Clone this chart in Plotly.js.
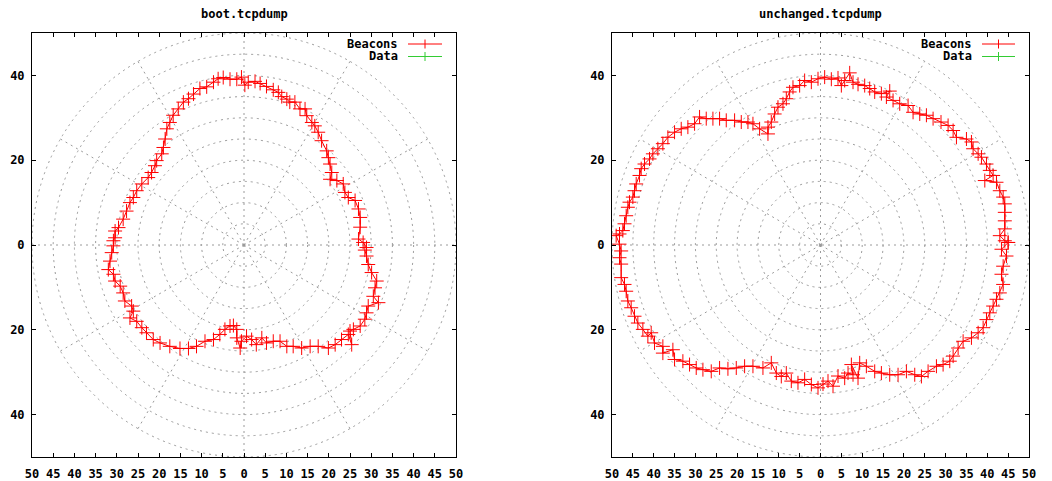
<!DOCTYPE html>
<html><head><meta charset="utf-8">
<script src="https://cdn.plot.ly/plotly-3.0.1.min.js"></script>
<style>html,body{margin:0;padding:0;background:#fff}#chart{width:1052px;height:481px}</style>
</head><body><div id="chart"></div>
<script>
const panelTitles = ['boot.tcpdump', 'unchanged.tcpdump'];
const seriesNames = ['Beacons', 'Data'];

const bootX = [28.9,28.1,27,27.4,27.4,27,26.2,24.6,23.8,23.4,21.9,20.3,20.7,20.3,19.9,19.5,18.3,17.5,16.7,16,14.8,14.4,13.2,12,10.8,10.1,8.9,8.1,6.9,5.3,3.8,2.6,1,0.2,-0.6,-1.7,-3.3,-4.9,-6.1,-7.2,-8.8,-10.4,-11.9,-13.1,-14.3,-15.5,-16.7,-17.5,-18.2,-18.6,-19,-19.4,-20.6,-21,-21.8,-22.6,-24.1,-25.3,-26.1,-26.9,-27.7,-28.5,-29.6,-30.4,-30.4,-30.8,-30.8,-31.2,-31.6,-32,-30.8,-30.4,-29.2,-28.5,-28.1,-26.5,-26.1,-26.9,-25.3,-24.1,-23,-21.4,-19.8,-17.5,-15.1,-13.1,-11.2,-9.2,-7.2,-5.7,-4.5,-3.3,-2.5,-1.7,-1.7,-0.9,-0.6,0.6,1.8,2.9,4.2,5.3,6.9,8.5,10.1,11.6,13.6,15.6,17.5,19.9,21.5,23,24.6,25.4,25,25.8,27.4,28.5,28.9,29.3,31.7,30.5,30.9,31.3,30.1,29.3,28.9,28.5];
const bootY = [-0.6,0.6,1.4,4.2,6.5,8.5,10.5,11.2,12.4,14.4,15.2,15.5,17.1,19.1,20.6,22.2,24.6,26.6,28.1,28.9,30.5,32.1,32.1,33.7,33.7,34.4,35,36,36.6,37.4,38.1,38.6,38.4,37.7,39.6,39.1,39.1,39.5,39.2,38.4,37.3,36.9,35.6,34.5,33.7,32.1,30.6,28.9,27.4,25,23,21.5,19.9,18.7,17.1,15.9,14.4,12.8,11.2,10,8,6.1,4.1,3.3,1.7,1,-0.2,-1.8,-3.8,-5.8,-6.9,-8.5,-9.7,-11.3,-13.2,-14.4,-15.6,-17.2,-18,-19.5,-20.7,-22.3,-23.1,-23.9,-24.4,-24.4,-23.9,-22.7,-22.3,-21.1,-19.9,-19.1,-19,-19.9,-21.9,-24.3,-22.7,-21.5,-22.3,-23.5,-21.9,-23.1,-22.7,-22.7,-23.9,-23.9,-24.3,-23.9,-23.9,-24.3,-23.5,-22.3,-21.1,-23.5,-20.3,-19.9,-19.1,-17.5,-16,-14.4,-13.6,-12.1,-10.1,-8.5,-6.5,-4.6,-2.6,-1.2];

const unchX = [45,44.2,43,44.2,44.2,44.2,44.2,43.8,43,42.2,39.4,41.4,40.6,39.8,38.6,37.8,36.6,36.2,35,32.6,31.8,30.6,28.9,27,25.4,23.8,22.2,21,19,17.4,15.8,16.6,14.6,13,11.8,10.6,9,7.8,7,5.8,5,4.2,2.6,1,-0.6,-2.2,-3.8,-5,-6.6,-7.4,-8.2,-9,-10.2,-11,-11.8,-12.6,-12.6,-14.6,-16.2,-17.4,-19,-20.6,-22.6,-24.2,-25.8,-27.4,-29,-30.2,-31.8,-33.4,-35,-36.6,-37.8,-39,-40.2,-41,-42.2,-43,-43.4,-44.2,-44.6,-45,-45.8,-46.2,-46.6,-47,-47.4,-48.2,-49,-48.2,-47.8,-48.2,-47.8,-47.8,-47,-46.6,-46.2,-45.4,-44.6,-43.8,-42.6,-41.4,-40.6,-39.8,-37.8,-37.8,-35.4,-35,-33,-31.4,-29.8,-28.2,-26.2,-24.2,-22.2,-20.2,-18.2,-16.2,-13.8,-11.8,-10.6,-9.4,-8.2,-7,-5.4,-3.8,-2.2,-0.6,0.6,1.8,3,4.2,5.8,6.6,7.8,7.4,9,9.4,11,13,14.6,16.6,18.6,20.6,22.6,24.2,25.8,27.8,29.4,31,31.8,33,34.2,36.2,37.8,39,39.8,40.6,41.4,42.2,43,43.8,43.4,43.8,44.6,43.4,45];
const unchY = [0.6,1,2.2,3.8,5.7,7.7,9.7,11.3,12.8,14.8,15.2,16.4,17.6,19.1,20.7,21.5,22.7,24.3,25,25.4,27,28.2,29,29.8,30.6,30.9,31.3,32.9,33.3,34.1,34.9,36.3,35.7,36.1,36.9,37.6,37.9,38.4,40.6,38.8,37.6,39.4,39.1,39.6,39.2,38.4,38.8,37.6,37.2,36.1,34.5,33.3,32.5,30.9,29,27.8,26.2,27.4,28.6,29,29,29.4,29.4,29.8,29.8,29.8,30.2,28.6,27.8,27.4,26.6,25.4,23.9,22.7,21.5,20.3,19.1,18,16.4,14.4,12.8,11.3,10.1,8.9,6.9,5,3.4,2.6,2.2,0.2,-1.4,-3,-4.5,-7.7,-9.3,-10.9,-13.2,-14.8,-16.8,-18.4,-19.9,-21.5,-20.7,-23.1,-23.9,-25.5,-24.7,-27,-27.4,-28.2,-29,-29.4,-29.8,-29,-29.2,-29,-28.6,-28.6,-29,-27.8,-30.2,-31,-30.2,-32.1,-32.5,-31.7,-32.9,-33.7,-32.8,-32.1,-33.3,-30.9,-31.4,-30.2,-30.6,-28.2,-31.4,-27.8,-28.6,-29.8,-30.2,-30.6,-30.6,-29.8,-30.6,-31,-29.8,-28.6,-28.2,-27.4,-26.2,-24.3,-22.7,-21.9,-20.7,-19.5,-17.6,-16,-14.4,-12.8,-11.3,-9.3,-6.9,-5,-2.6,-1,0.6];

const dataX = [];
const dataY = [];

const xTickVals = [-50,-45,-40,-35,-30,-25,-20,-15,-10,-5,0,5,10,15,20,25,30,35,40,45,50];
const xTickText = ['50','45','40','35','30','25','20','15','10','5','0','5','10','15','20','25','30','35','40','45','50'];
const yTickVals = [-40,-20,0,20,40];
const yTickText = ['40','20','0','20','40'];
const gridRadii = [5,10,15,20,25,30,35,40,45,50];
const gridAngles = [30,60,120,150,210,240,300,330];

const W = 1052, H = 481;
const font = {family: 'DejaVu Sans Mono, monospace', size: 12, color: '#000', weight: 'bold'};
const gridColor = '#9a9a9a';
const gridDash = '2px,4px';
const red = '#ff0000', green = '#33cc33';

// panel pixel boxes [left, right, top, bottom]
const panels = [
  {box: [32, 456, 33, 457], xa: 'x', ya: 'y', legendTextRight: 400, legendLine: [408, 442]},
  {box: [612, 1029, 33, 457], xa: 'x2', ya: 'y2', legendTextRight: 974, legendLine: [982, 1015]}
];

function axisCommon() {
  return {range: [-50, 50], showgrid: false, zeroline: false, showline: true,
    linecolor: '#000', linewidth: 1, mirror: 'ticks', ticks: 'inside', ticklen: 4,
    tickcolor: '#000', tickwidth: 1, tickfont: font, fixedrange: true};
}

const traces = [];
const shapes = [];
const annotations = [];
const layout = {width: W, height: H, margin: {l: 0, r: 0, t: 0, b: 0},
  paper_bgcolor: '#fff', plot_bgcolor: '#fff', showlegend: false, font: font};

const seriesSets = [[bootX, bootY], [unchX, unchY]];

panels.forEach((p, i) => {
  const [l, r, t, b] = p.box;
  const sfx = i === 0 ? '' : '2';
  layout['xaxis' + sfx] = Object.assign(axisCommon(), {domain: [l / W, r / W], anchor: 'y' + sfx,
    tickvals: xTickVals, ticktext: xTickText, ticklabelstandoff: 6});
  layout['yaxis' + sfx] = Object.assign(axisCommon(), {domain: [1 - b / H, 1 - t / H], anchor: 'x' + sfx,
    tickvals: yTickVals, ticktext: yTickText, ticklabelstandoff: 4});

  // polar grid
  gridRadii.forEach(rad => shapes.push({type: 'circle', xref: p.xa, yref: p.ya, x0: -rad, x1: rad, y0: -rad, y1: rad,
    line: {color: gridColor, width: 1, dash: gridDash}, layer: 'below'}));
  gridAngles.forEach(a => {
    const rr = gridRadii[gridRadii.length - 1];
    shapes.push({type: 'line', xref: p.xa, yref: p.ya, x0: 0, y0: 0,
      x1: rr * Math.cos(a * Math.PI / 180), y1: rr * Math.sin(a * Math.PI / 180),
      line: {color: gridColor, width: 1, dash: gridDash}, layer: 'below'});
  });
  shapes.push({type: 'line', xref: p.xa, yref: p.ya, x0: -50, x1: 50, y0: 0, y1: 0,
    line: {color: gridColor, width: 1, dash: gridDash}, layer: 'below'});
  shapes.push({type: 'line', xref: p.xa, yref: p.ya, x0: 0, x1: 0, y0: -50, y1: 50,
    line: {color: gridColor, width: 1, dash: gridDash}, layer: 'below'});

  // title
  annotations.push({xref: 'paper', yref: 'paper', x: ((l + r) / 2) / W, y: 1 - 14 / H,
    xanchor: 'center', yanchor: 'middle', showarrow: false, text: panelTitles[i], font: font});

  // series
  const [sx, sy] = seriesSets[i];
  traces.push({type: 'scatter', mode: 'lines+markers', name: seriesNames[0], x: sx, y: sy,
    xaxis: p.xa, yaxis: p.ya, cliponaxis: true,
    line: {color: red, width: 1},
    marker: {symbol: 'cross-thin', size: 10, line: {color: red, width: 1}}});
  traces.push({type: 'scatter', mode: 'lines+markers', name: seriesNames[1], x: dataX, y: dataY,
    xaxis: p.xa, yaxis: p.ya,
    line: {color: green, width: 1},
    marker: {symbol: 'cross-thin', size: 10, line: {color: green, width: 1}}});

  // manual gnuplot-style key
  const keyRows = [[seriesNames[0], red, 44], [seriesNames[1], green, 56.5]];
  keyRows.forEach(([name, col, py]) => {
    annotations.push({xref: 'paper', yref: 'paper', x: p.legendTextRight / W, y: 1 - py / H,
      xanchor: 'right', yanchor: 'middle', showarrow: false, text: name, font: font});
    const [lx0, lx1] = p.legendLine;
    shapes.push({type: 'line', xref: 'paper', yref: 'paper', x0: lx0 / W, x1: lx1 / W,
      y0: 1 - py / H, y1: 1 - py / H, line: {color: col, width: 1}});
    const cx = (lx0 + lx1) / 2;
    shapes.push({type: 'line', xref: 'paper', yref: 'paper', x0: cx / W, x1: cx / W,
      y0: 1 - (py - 4.5) / H, y1: 1 - (py + 4.5) / H, line: {color: col, width: 1}});
  });
});

layout.shapes = shapes;
layout.annotations = annotations;
Plotly.newPlot('chart', traces, layout, {staticPlot: true, displayModeBar: false});
</script></body></html>
